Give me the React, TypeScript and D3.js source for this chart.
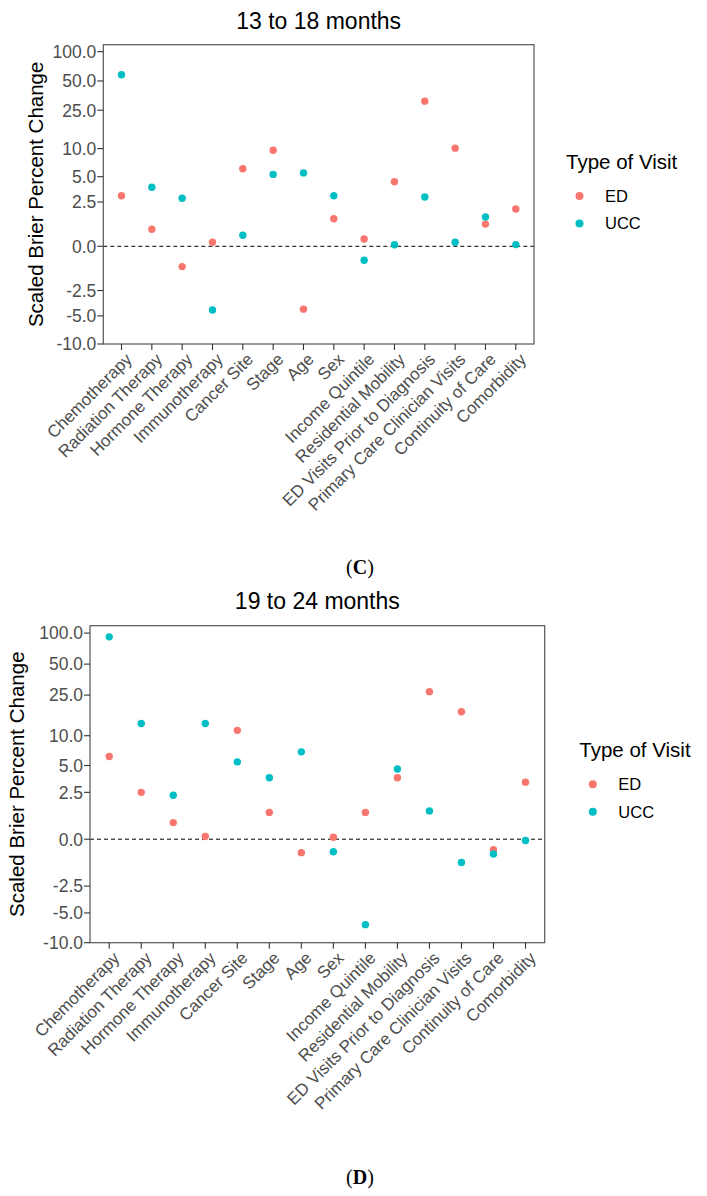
import React from "react";
import * as d3 from "d3";

const categories = [
  "Chemotherapy",
  "Radiation Therapy",
  "Hormone Therapy",
  "Immunotherapy",
  "Cancer Site",
  "Stage",
  "Age",
  "Sex",
  "Income Quintile",
  "Residential Mobility",
  "ED Visits Prior to Diagnosis",
  "Primary Care Clinician Visits",
  "Continuity of Care",
  "Comorbidity",
];

// 13 to 18 months
const ed13 = [3.0, 0.83, -1.0, 0.19, 6.1, 9.6, -4.2, 1.4, 0.35, 4.4, 31, 10.1, 1.1, 2.0];
const ucc13 = [58, 3.8, 2.8, -4.3, 0.53, 5.3, 5.5, 3.0, -0.67, 0.07, 2.9, 0.19, 1.5, 0.08];
// 19 to 24 months
const ed19 = [6.2, 2.5, 0.76, 0.12, 11.3, 1.27, -0.61, 0.09, 1.27, 3.7, 27, 17.2, -0.47, 3.3];
const ucc19 = [92, 13.2, 2.3, 13.2, 5.45, 3.7, 6.9, -0.57, -6.6, 4.6, 1.35, -1.09, -0.67, -0.06];

const yTicks = [-10, -5, -2.5, 0, 2.5, 5, 10, 25, 50, 100];
const yDomain = [-10, 118];
const seriesNames = ["ED", "UCC"];
const seriesColors = ["#F8766D", "#00BFC4"];

const pseudoLog = (v: number) => Math.asinh(v / 2) / Math.LN10;
const fmt = (v: number) => d3.format(".1f")(v).replace("\u2212", "-");

const SANS = "'Liberation Sans', Arial, sans-serif";

type PanelProps = {
  title: string;
  ed: number[];
  ucc: number[];
  left: number;
  right: number;
  top: number;
  bottom: number;
  titleY: number;
  legendX: number;
  legendY: number;
  yTitleX: number;
};

function Panel({ title, ed, ucc, left, right, top, bottom, titleY, legendX, legendY, yTitleX }: PanelProps) {
  const x = d3
    .scalePoint<string>()
    .domain(categories)
    .range([left, right])
    .padding(0.6);
  const y = d3
    .scaleLinear()
    .domain(yDomain.map(pseudoLog))
    .range([bottom, top]);
  const yv = (v: number) => y(pseudoLog(v));
  const series = [ed, ucc];
  return (
    <g>
      <text
        x={(left + right) / 2}
        y={titleY}
        textAnchor="middle"
        fontFamily={SANS}
        fontSize={23}
        fill="#000"
      >
        {title}
      </text>
      <text
        transform={`translate(${yTitleX},${(top + bottom) / 2}) rotate(-90)`}
        textAnchor="middle"
        fontFamily={SANS}
        fontSize={20.5}
        fill="#000"
      >
        Scaled Brier Percent Change
      </text>
      <line
        x1={left}
        x2={right}
        y1={yv(0)}
        y2={yv(0)}
        stroke="#000"
        strokeWidth={1}
        strokeDasharray="4,3"
      />
      {series.map((vals, si) =>
        vals.map((v, i) => (
          <circle
            key={`${si}-${i}`}
            cx={x(categories[i])}
            cy={yv(v)}
            r={3.7}
            fill={seriesColors[si]}
          />
        ))
      )}
      <rect
        x={left}
        y={top}
        width={right - left}
        height={bottom - top}
        fill="none"
        stroke="#555"
        strokeWidth={1.2}
      />
      {yTicks.map((t) => (
        <g key={t}>
          <line x1={left - 6} x2={left} y1={yv(t)} y2={yv(t)} stroke="#333" strokeWidth={1.1} />
          <text
            x={left - 7}
            y={yv(t)}
            dy="0.36em"
            textAnchor="end"
            fontFamily={SANS}
            fontSize={17.5}
            fill="#4D4D4D"
          >
            {fmt(t)}
          </text>
        </g>
      ))}
      {categories.map((c) => (
        <g key={c}>
          <line x1={x(c)} x2={x(c)} y1={bottom} y2={bottom + 6} stroke="#333" strokeWidth={1.1} />
          <text
            transform={`translate(${(x(c) as number) + 3},${bottom + 8}) rotate(-45)`}
            dy="0.7em"
            textAnchor="end"
            fontFamily={SANS}
            fontSize={17}
            fill="#4D4D4D"
          >
            {c}
          </text>
        </g>
      ))}
      <text x={legendX} y={legendY} fontFamily={SANS} fontSize={20.5} fill="#000">
        Type of Visit
      </text>
      {seriesNames.map((s, i) => (
        <g key={s}>
          <circle cx={legendX + 13.5} cy={legendY + 27 + i * 27.5} r={4} fill={seriesColors[i]} />
          <text
            x={legendX + 39}
            y={legendY + 27 + i * 27.5}
            dy="0.36em"
            fontFamily={SANS}
            fontSize={16.5}
            fill="#000"
          >
            {s}
          </text>
        </g>
      ))}
    </g>
  );
}

export default function App() {
  return (
    <svg
      width={707}
      height={1196}
      style={{ position: "absolute", left: 0, top: 0, background: "#fff" }}
    >
      <rect x={0} y={0} width={707} height={1196} fill="#fff" />
      <Panel
        title="13 to 18 months"
        ed={ed13}
        ucc={ucc13}
        left={103.3}
        right={534}
        top={44.7}
        bottom={344}
        titleY={29.3}
        legendX={566}
        legendY={169}
        yTitleX={42.5}
      />
      <text x={360} y={574} textAnchor="middle" fontFamily="'Liberation Serif', 'Times New Roman', serif" fontSize={20}>
        (<tspan fontWeight="bold">C</tspan>)
      </text>
      <Panel
        title="19 to 24 months"
        ed={ed19}
        ucc={ucc19}
        left={90}
        right={544.7}
        top={625.7}
        bottom={942.7}
        titleY={609.3}
        legendX={579.3}
        legendY={757.3}
        yTitleX={24}
      />
      <text x={360} y={1184} textAnchor="middle" fontFamily="'Liberation Serif', 'Times New Roman', serif" fontSize={20}>
        (<tspan fontWeight="bold">D</tspan>)
      </text>
    </svg>
  );
}
